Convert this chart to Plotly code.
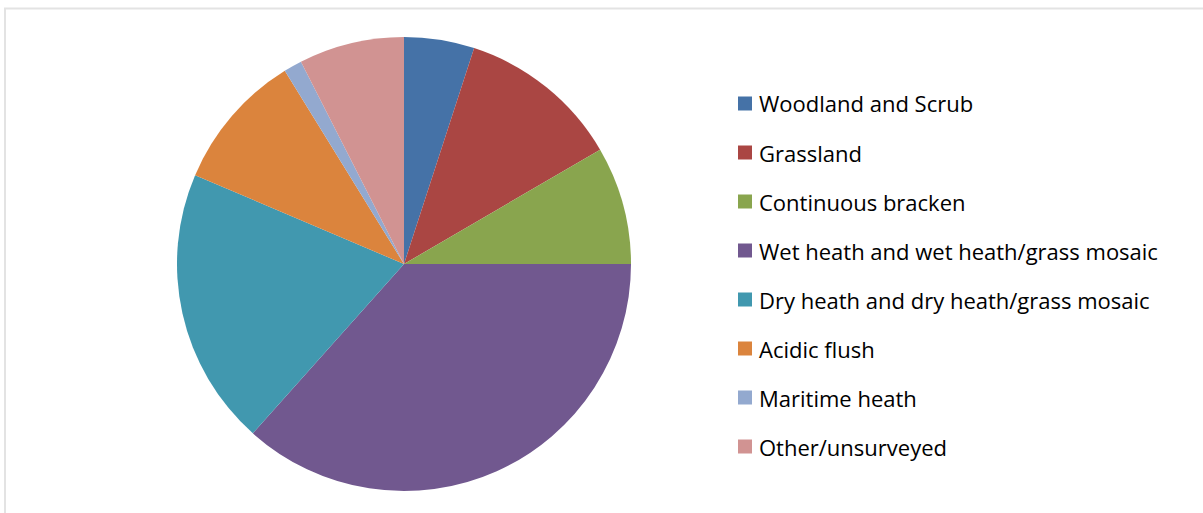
import plotly.graph_objects as go

labels = ["Woodland and Scrub", "Grassland", "Continuous bracken",
          "Wet heath and wet heath/grass mosaic", "Dry heath and dry heath/grass mosaic",
          "Acidic flush", "Maritime heath", "Other/unsurveyed"]
values = [5.0, 11.6, 8.4, 36.6, 19.8, 9.8, 1.3, 7.5]
colors = ["#4572A7", "#AA4643", "#89A54E", "#71588F", "#4198AF", "#DB843D", "#93A9CF", "#D19392"]

W, H = 1203, 513
cx, cy, r = 404, 264, 227

fig = go.Figure(go.Pie(
    labels=labels, values=values, sort=False, direction="clockwise", rotation=0,
    marker=dict(colors=colors, line=dict(width=0)),
    textinfo="none", hoverinfo="label+percent", showlegend=False,
    domain=dict(x=[(cx - r) / W, (cx + r) / W], y=[1 - (cy + r) / H, 1 - (cy - r) / H]),
))

shapes = [dict(type="rect", xref="paper", yref="paper",
               x0=5 / W, y0=-0.05, x1=1.05, y1=1 - 8.5 / H,
               line=dict(color="#E3E3E3", width=2), fillcolor="rgba(0,0,0,0)")]
annotations = []
y_first, step = 103.5, 49
for i, (lab, col) in enumerate(zip(labels, colors)):
    yc = y_first + i * step
    shapes.append(dict(type="rect", xref="paper", yref="paper",
                       x0=738 / W, x1=752 / W, y0=1 - (yc + 7) / H, y1=1 - (yc - 7) / H,
                       fillcolor=col, line=dict(width=0)))
    annotations.append(dict(text=lab, xref="paper", yref="paper", x=757 / W, y=1 - yc / H,
                            xanchor="left", yanchor="middle", showarrow=False,
                            font=dict(family="Open Sans", size=22, color="#000000")))

fig.update_layout(width=W, height=H, margin=dict(l=0, r=0, t=0, b=0),
                  paper_bgcolor="white", plot_bgcolor="white",
                  shapes=shapes, annotations=annotations)
fig.write_html("out.html", config={"displayModeBar": False},
               post_script="document.body.style.margin='0';")
